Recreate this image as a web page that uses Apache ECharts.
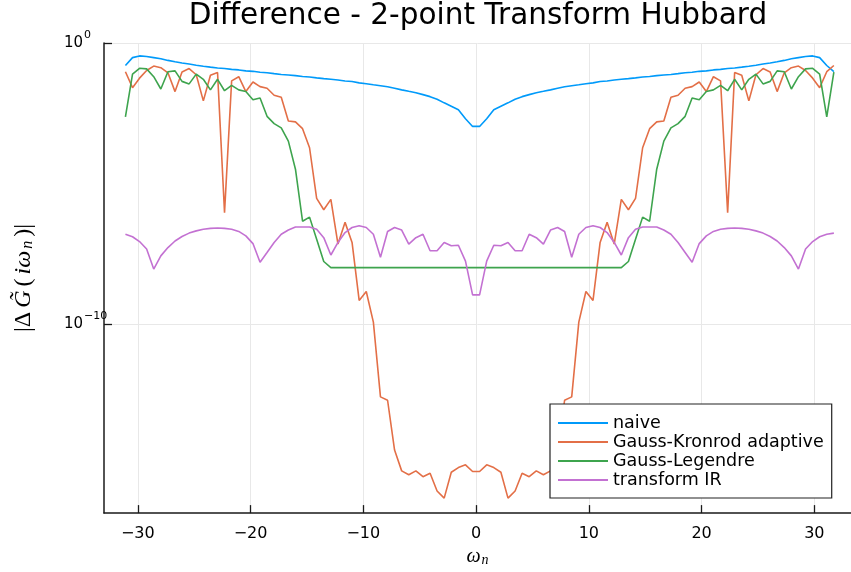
<!DOCTYPE html>
<html>
<head>
<meta charset="utf-8">
<script src="https://cdn.jsdelivr.net/npm/echarts@6/dist/echarts.min.js"></script>
<style>
  html, body { margin: 0; padding: 0; background: #ffffff; }
  #chart { width: 851px; height: 572px; }
</style>
</head>
<body>
<div id="chart"></div>
<script>
// Matsubara frequencies omega_n
const omega = [
  -31.10, -30.47, -29.85, -29.22, -28.59, -27.96, -27.33, -26.70, -26.08, -25.45,
  -24.82, -24.19, -23.56, -22.93, -22.31, -21.68, -21.05, -20.42, -19.79, -19.16,
  -18.54, -17.91, -17.28, -16.65, -16.02, -15.39, -14.77, -14.14, -13.51, -12.88,
  -12.25, -11.62, -11.00, -10.37, -9.74, -9.11, -8.48, -7.85, -7.23, -6.60,
  -5.97, -5.34, -4.71, -4.08, -3.46, -2.83, -2.20, -1.57, -0.94, -0.31,
  0.31, 0.94, 1.57, 2.20, 2.83, 3.46, 4.08, 4.71, 5.34, 5.97,
  6.60, 7.23, 7.85, 8.48, 9.11, 9.74, 10.37, 11.00, 11.62, 12.25,
  12.88, 13.51, 14.14, 14.77, 15.39, 16.02, 16.65, 17.28, 17.91, 18.54,
  19.16, 19.79, 20.42, 21.05, 21.68, 22.31, 22.93, 23.56, 24.19, 24.82,
  25.45, 26.08, 26.70, 27.33, 27.96, 28.59, 29.22, 29.85, 30.47, 31.10,
  31.73
];

// |dG(i omega_n)| for each method
const naive = [
  0.158, 0.302, 0.347, 0.331, 0.302, 0.275, 0.240, 0.214, 0.195, 0.178,
  0.162, 0.148, 0.138, 0.129, 0.123, 0.115, 0.110, 0.102, 9.8e-2, 9.1e-2,
  8.7e-2, 8.1e-2, 7.6e-2, 7.25e-2, 6.9e-2, 6.45e-2, 6.15e-2, 5.75e-2, 5.4e-2, 5.1e-2,
  4.8e-2, 4.45e-2, 4.25e-2, 3.8e-2, 3.55e-2, 3.25e-2, 3.0e-2, 2.75e-2, 2.45e-2, 2.14e-2,
  1.9e-2, 1.7e-2, 1.45e-2, 1.23e-2, 1.0e-2, 7.4e-3, 5.6e-3, 4.2e-3, 2.0e-3, 1.07e-3,
  1.07e-3, 2.0e-3, 4.2e-3, 5.6e-3, 7.4e-3, 1.0e-2, 1.23e-2, 1.45e-2, 1.7e-2, 1.9e-2,
  2.14e-2, 2.45e-2, 2.75e-2, 3.0e-2, 3.25e-2, 3.55e-2, 3.8e-2, 4.25e-2, 4.45e-2, 4.8e-2,
  5.1e-2, 5.4e-2, 5.75e-2, 6.15e-2, 6.45e-2, 6.9e-2, 7.25e-2, 7.6e-2, 8.1e-2, 8.7e-2,
  9.1e-2, 9.8e-2, 0.102, 0.110, 0.115, 0.123, 0.129, 0.138, 0.148, 0.162,
  0.178, 0.195, 0.214, 0.240, 0.275, 0.302, 0.331, 0.347, 0.302, 0.158,
  0.095
];

const gaussKronrod = [
  9.5e-2, 2.57e-2, 5.6e-2, 0.105, 0.151, 0.132, 8.7e-2, 1.86e-2, 9.3e-2, 0.123,
  7.4e-2, 8.7e-3, 7.1e-2, 8.9e-2, 9.1e-7, 4.5e-2, 6.3e-2, 1.86e-2, 4.1e-2, 2.8e-2,
  2.45e-2, 1.38e-2, 1.17e-2, 1.66e-3, 1.55e-3, 8.9e-4, 1.86e-4, 2.95e-6, 1.15e-6, 2.7e-6,
  6.9e-8, 4.1e-7, 7.9e-8, 6.8e-10, 1.41e-9, 1.15e-10, 2.5e-13, 1.9e-13, 3.2e-15, 5.8e-16,
  4.2e-16, 5.8e-16, 3.6e-16, 4.8e-16, 1.12e-16, 6.2e-17, 5.2e-16, 7.6e-16, 9.5e-16, 5.5e-16,
  5.5e-16, 9.5e-16, 7.6e-16, 5.2e-16, 6.2e-17, 1.12e-16, 4.8e-16, 3.6e-16, 5.8e-16, 4.2e-16,
  5.8e-16, 3.2e-15, 1.9e-13, 2.5e-13, 1.15e-10, 1.41e-9, 6.8e-10, 7.9e-8, 4.1e-7, 6.9e-8,
  2.7e-6, 1.15e-6, 2.95e-6, 1.86e-4, 8.9e-4, 1.55e-3, 1.66e-3, 1.17e-2, 1.38e-2, 2.45e-2,
  2.8e-2, 4.1e-2, 1.86e-2, 6.3e-2, 4.5e-2, 9.1e-7, 8.9e-2, 7.1e-2, 8.7e-3, 7.4e-2,
  0.123, 9.3e-2, 1.86e-2, 8.7e-2, 0.132, 0.151, 0.105, 5.6e-2, 2.57e-2, 9.5e-2,
  0.158
];

const gaussLegendre = [
  2.34e-3, 7.8e-2, 0.126, 0.120, 6.3e-2, 2.3e-2, 9.5e-2, 0.102, 4.3e-2, 3.5e-2,
  7.8e-2, 5.1e-2, 2.14e-2, 5.1e-2, 2.0e-2, 3.1e-2, 2.14e-2, 1.86e-2, 9.5e-3, 1.1e-2,
  2.45e-3, 1.35e-3, 9.5e-4, 3.2e-4, 3.2e-5, 4.5e-7, 6.3e-7, 1.02e-7, 1.66e-8, 1.0e-8,
  1.0e-8, 1.0e-8, 1.0e-8, 1.0e-8, 1.0e-8, 1.0e-8, 1.0e-8, 1.0e-8, 1.0e-8, 1.0e-8,
  1.0e-8, 1.0e-8, 1.0e-8, 1.0e-8, 1.0e-8, 1.0e-8, 1.0e-8, 1.0e-8, 1.0e-8, 1.0e-8,
  1.0e-8, 1.0e-8, 1.0e-8, 1.0e-8, 1.0e-8, 1.0e-8, 1.0e-8, 1.0e-8, 1.0e-8, 1.0e-8,
  1.0e-8, 1.0e-8, 1.0e-8, 1.0e-8, 1.0e-8, 1.0e-8, 1.0e-8, 1.0e-8, 1.0e-8, 1.0e-8,
  1.0e-8, 1.66e-8, 1.02e-7, 6.3e-7, 4.5e-7, 3.2e-5, 3.2e-4, 9.5e-4, 1.35e-3, 2.45e-3,
  1.1e-2, 9.5e-3, 1.86e-2, 2.14e-2, 3.1e-2, 2.0e-2, 5.1e-2, 2.14e-2, 5.1e-2, 7.8e-2,
  3.5e-2, 4.3e-2, 0.102, 9.5e-2, 2.3e-2, 6.3e-2, 0.120, 0.126, 7.8e-2, 2.34e-3,
  9.1e-2
];

const transformIR = [
  1.55e-7, 1.26e-7, 8.5e-8, 4.6e-8, 8.9e-9, 2.63e-8, 5.2e-8, 8.9e-8, 1.29e-7, 1.70e-7,
  2.04e-7, 2.34e-7, 2.51e-7, 2.57e-7, 2.51e-7, 2.34e-7, 1.95e-7, 1.35e-7, 7.2e-8, 1.55e-8,
  3.47e-8, 7.9e-8, 1.55e-7, 2.19e-7, 2.82e-7, 2.82e-7, 2.82e-7, 2.34e-7, 1.17e-7, 2.82e-8,
  7.9e-8, 1.78e-7, 2.69e-7, 3.09e-7, 2.69e-7, 1.55e-7, 2.34e-8, 1.95e-7, 2.69e-7, 2.19e-7,
  6.9e-8, 1.17e-7, 1.55e-7, 4.0e-8, 4.0e-8, 7.9e-8, 6.0e-8, 6.3e-8, 1.7e-8, 1.07e-9,
  1.07e-9, 1.7e-8, 6.3e-8, 6.0e-8, 7.9e-8, 4.0e-8, 4.0e-8, 1.55e-7, 1.17e-7, 6.9e-8,
  2.19e-7, 2.69e-7, 1.95e-7, 2.34e-8, 1.55e-7, 2.69e-7, 3.09e-7, 2.69e-7, 1.78e-7, 7.9e-8,
  2.82e-8, 1.17e-7, 2.34e-7, 2.82e-7, 2.82e-7, 2.82e-7, 2.19e-7, 1.55e-7, 7.9e-8, 3.47e-8,
  1.55e-8, 7.2e-8, 1.35e-7, 1.95e-7, 2.34e-7, 2.51e-7, 2.57e-7, 2.51e-7, 2.34e-7, 2.04e-7,
  1.70e-7, 1.29e-7, 8.9e-8, 5.2e-8, 2.63e-8, 8.9e-9, 4.6e-8, 8.5e-8, 1.26e-7, 1.55e-7,
  1.70e-7
];

const seriesNames = ['naive', 'Gauss-Kronrod adaptive', 'Gauss-Legendre', 'transform IR'];
const seriesValues = [naive, gaussKronrod, gaussLegendre, transformIR];
const seriesColors = ['#009AFA', '#E36F47', '#3EA44E', '#C371D2'];

const xTicks = [-30, -20, -10, 0, 10, 20, 30];
const yTicks = [1e-10, 1];

const chart = echarts.init(document.getElementById('chart'), null, { renderer: 'canvas' });

const axisColor = '#1a1a1a';
const gridColor = '#e8e8e8';
const sans = 'DejaVu Sans';
const serif = 'Liberation Serif';

// "10" with a raised exponent
function supLabel(v) {
  const e = Math.round(Math.log10(v));
  const exp = e < 0 ? '\u2212' + (-e) : String(e);
  return '{b|10}{s|' + exp + '}';
}

const option = {
  animation: false,
  backgroundColor: '#ffffff',
  color: seriesColors,
  title: {
    text: 'Difference - 2-point Transform Hubbard',
    left: 478,
    textAlign: 'center',
    top: 1,
    padding: 0,
    textStyle: { fontFamily: sans, fontSize: 29.5, fontWeight: 'normal', color: '#000000', lineHeight: 30 }
  },
  grid: { left: 104, right: 0, top: 43, bottom: 57, containLabel: false },
  legend: {
    orient: 'vertical',
    left: 550,
    top: 404,
    data: seriesNames,
    icon: 'rect',
    itemWidth: 50,
    itemHeight: 2,
    itemGap: 1,
    itemTextGap: 8,
    padding: [10, 8, 9, 8],
    backgroundColor: '#ffffff',
    borderColor: '#222222',
    borderWidth: 1.2,
    borderRadius: 0,
    textStyle: { fontFamily: sans, fontSize: 17.5, color: '#000000', lineHeight: 17 }
  },
  xAxis: {
    type: 'value',
    min: -33.0,
    max: 33.25,
    name: '{w|\u03c9}{n|n}',
    nameLocation: 'middle',
    nameGap: 22,
    nameTextStyle: {
      rich: {
        w: { fontFamily: serif, fontStyle: 'italic', fontSize: 20, color: '#000', lineHeight: 20, verticalAlign: 'bottom' },
        n: { fontFamily: serif, fontStyle: 'italic', fontSize: 14, color: '#000', lineHeight: 14, verticalAlign: 'bottom', padding: [0, 0, 0, 1] }
      }
    },
    axisLine: { show: true, onZero: false, lineStyle: { color: axisColor, width: 1.5 } },
    axisTick: { show: true, inside: true, length: 8, customValues: xTicks, lineStyle: { color: axisColor, width: 1.3 } },
    axisLabel: {
      customValues: xTicks,
      margin: 13,
      fontFamily: sans,
      fontSize: 16,
      color: '#000',
      formatter: v => (v < 0 ? '\u2212' + (-v) : String(v))
    },
    splitLine: { show: true, lineStyle: { color: gridColor, width: 1 } }
  },
  yAxis: {
    type: 'log',
    logBase: 10,
    min: 1.82e-17,
    max: 1,
    name: '{m|\u007C\u0394}{g|G\u0303}{m|(}{g|i\u03c9}{n|n}{m|)\u007C}',
    nameLocation: 'middle',
    nameRotate: 90,
    nameGap: 68,
    nameTextStyle: {
      rich: {
        m: { fontFamily: serif, fontSize: 24, color: '#000', lineHeight: 26, verticalAlign: 'bottom', padding: [0, 2, 0, 2] },
        g: { fontFamily: serif, fontStyle: 'italic', fontSize: 24, color: '#000', lineHeight: 26, verticalAlign: 'bottom', padding: [0, 2, 0, 2] },
        n: { fontFamily: serif, fontStyle: 'italic', fontSize: 16, color: '#000', lineHeight: 16, verticalAlign: 'bottom', padding: [0, 2, 0, 0] }
      }
    },
    axisLine: { show: true, onZero: false, lineStyle: { color: axisColor, width: 1.5 } },
    axisTick: { show: true, inside: true, length: 8, customValues: yTicks, lineStyle: { color: axisColor, width: 1.3 } },
    axisLabel: {
      customValues: yTicks,
      margin: 40,
      align: 'left',
      formatter: supLabel,
      rich: {
        b: { fontFamily: sans, fontSize: 15, color: '#000', lineHeight: 15, padding: [6, 0, 0, 0], verticalAlign: 'bottom' },
        s: { fontFamily: sans, fontSize: 11, color: '#000', lineHeight: 11, padding: [0, 0, 10, 1], verticalAlign: 'bottom' }
      }
    },
    splitLine: { show: true, lineStyle: { color: gridColor, width: 1 } }
  },
  series: seriesNames.map((name, k) => ({
    name: name,
    type: 'line',
    data: omega.map((w, i) => [w, seriesValues[k][i]]),
    showSymbol: false,
    symbol: 'none',
    smooth: false,
    lineStyle: { width: 1.6, color: seriesColors[k] },
    itemStyle: { color: seriesColors[k] },
    emphasis: { disabled: true }
  }))
};

chart.setOption(option);
</script>
</body>
</html>
